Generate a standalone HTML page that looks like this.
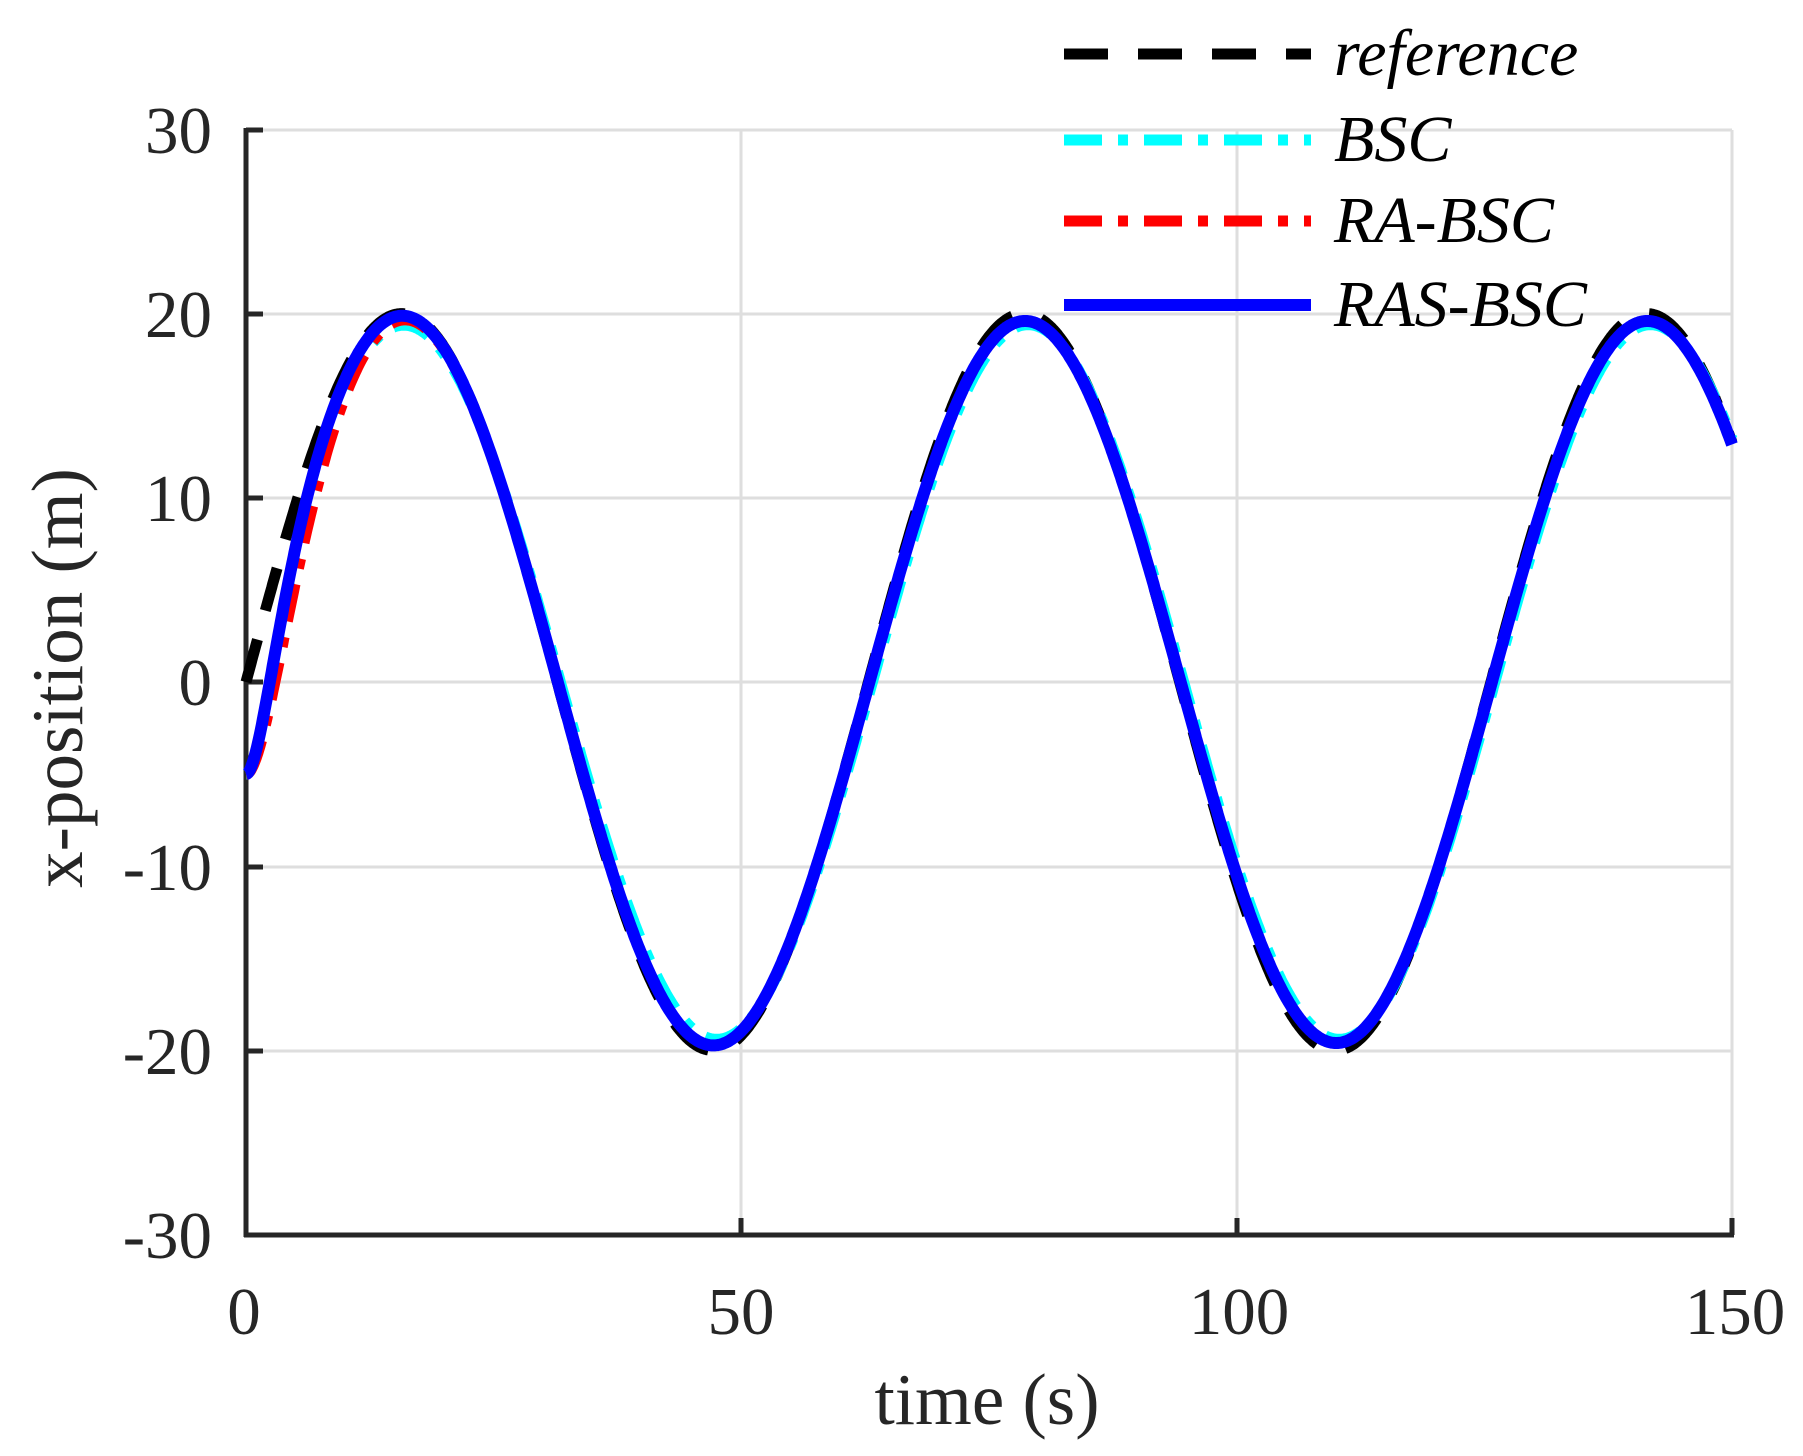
<!DOCTYPE html>
<html><head><meta charset="utf-8"><style>
html,body{margin:0;padding:0;background:#fff;}
svg{display:block;}
text{font-family:"Liberation Serif",serif;fill:#262626;}
</style></head><body>
<svg id="s" width="1803" height="1456" viewBox="0 0 1803 1456" xmlns="http://www.w3.org/2000/svg">
<g stroke="#dedede" stroke-width="3">
<line x1="246" y1="130" x2="1732" y2="130"/><line x1="246" y1="314" x2="1732" y2="314"/>
<line x1="246" y1="498" x2="1732" y2="498"/><line x1="246" y1="682" x2="1732" y2="682"/>
<line x1="246" y1="867" x2="1732" y2="867"/><line x1="246" y1="1051" x2="1732" y2="1051"/>
<line x1="741" y1="130" x2="741" y2="1235"/><line x1="1237" y1="130" x2="1237" y2="1235"/>
<line x1="1732" y1="130" x2="1732" y2="1235"/>
</g>
<g stroke="#262626" stroke-width="5">
<line x1="246" y1="128" x2="246" y2="1237"/><line x1="244" y1="1235" x2="1734" y2="1235"/>
<line x1="246" y1="130" x2="263" y2="130"/><line x1="246" y1="314" x2="263" y2="314"/>
<line x1="246" y1="498" x2="263" y2="498"/><line x1="246" y1="682" x2="263" y2="682"/>
<line x1="246" y1="867" x2="263" y2="867"/><line x1="246" y1="1051" x2="263" y2="1051"/>
<line x1="741" y1="1235" x2="741" y2="1218"/><line x1="1237" y1="1235" x2="1237" y2="1218"/>
<line x1="1732" y1="1235" x2="1732" y2="1218"/>
</g>
<g id="curves" fill="none" stroke-linejoin="round"></g>
<g font-size="67" text-anchor="end">
<text x="212" y="153">30</text><text x="212" y="337">20</text><text x="212" y="521">10</text>
<text x="212" y="705">0</text><text x="212" y="890">-10</text><text x="212" y="1074">-20</text>
<text x="212" y="1258">-30</text>
</g>
<g font-size="67" text-anchor="middle">
<text x="244" y="1334">0</text><text x="741" y="1334">50</text><text x="1239" y="1334">100</text><text x="1735" y="1334">150</text>
<text x="987" y="1424" font-size="73">time (s)</text>
<text transform="translate(82,678) rotate(-90)" font-size="73">x-position (m)</text>
</g>
<g stroke-width="11" fill="none">
<line x1="1064" y1="54" x2="1311" y2="54" stroke="#000" stroke-dasharray="44,30"/>
<line x1="1064" y1="140" x2="1311" y2="140" stroke="#00ffff" stroke-dasharray="38,16,10,16"/>
<line x1="1064" y1="221" x2="1311" y2="221" stroke="#ff0000" stroke-dasharray="38,16,10,16"/>
<line x1="1064" y1="305" x2="1311" y2="305" stroke="#0000ff" stroke-width="12"/>
</g>
<g font-size="66" font-style="italic">
<text x="1334" y="75" style="fill:#000">reference</text>
<text x="1334" y="161" style="fill:#000">BSC</text>
<text x="1334" y="242" style="fill:#000">RA-BSC</text>
<text x="1334" y="326" style="fill:#000">RAS-BSC</text>
</g>
</svg>
<script>
(function(){
var X=function(t){return 246+t/150*1486;},Y=function(v){return 682-v*18.42;};
function path(f){var d="";for(var i=0;i<=1500;i++){var t=i*0.1;d+=(i?"L":"M")+X(t).toFixed(1)+","+Y(f(t)).toFixed(1);}return d;}
var ref=function(t){return 20*Math.sin(0.1*t);};
function tr(a,t){var b=-2-5*a;return (-5+b*t)*Math.exp(-a*t);}
var cy=function(t){return 19.4*Math.sin(0.1*t-0.04*Math.min(1,t/40))+tr(0.5,t);};
var bl=function(t){return (20-0.4*Math.min(1,t/70))*Math.sin(0.1*t-0.01*Math.min(1,t/60))+tr(0.5,t);};
var rd=function(t){return bl(t)+tr(0.35,t)-tr(0.5,t);};
var g=document.getElementById("curves");
function add(d,c,w,da){var p=document.createElementNS("http://www.w3.org/2000/svg","path");p.setAttribute("d",d);p.setAttribute("stroke",c);p.setAttribute("stroke-width",w);if(da)p.setAttribute("stroke-dasharray",da);g.appendChild(p);}
add(path(ref),"#000",11,"44,30");
add(path(cy),"#00ffff",11,"38,16,10,16");
add(path(rd),"#ff0000",11,"38,16,10,16");
add(path(bl),"#0000ff",12);
})();
</script>
</body></html>
